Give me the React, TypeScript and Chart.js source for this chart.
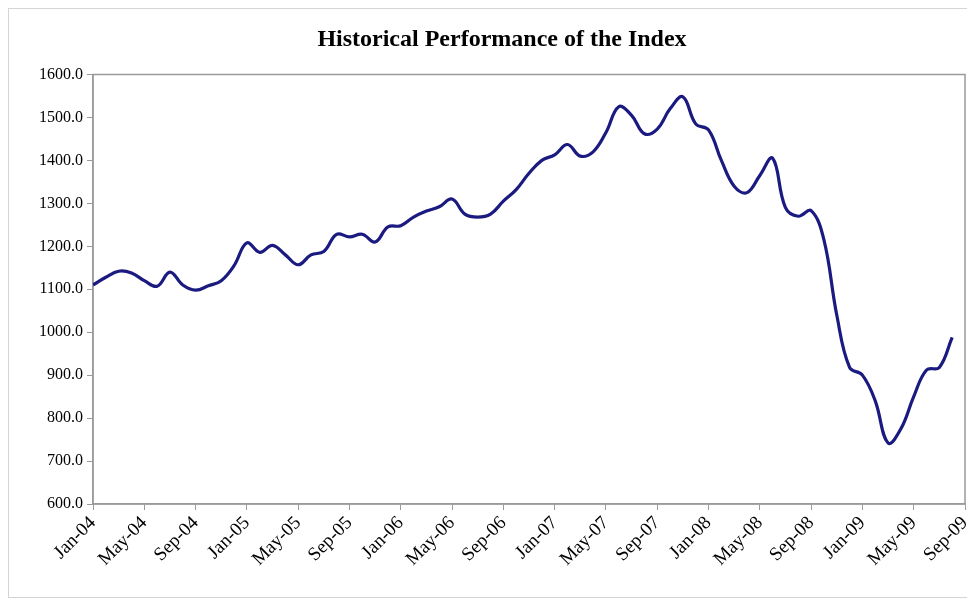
import React, { useEffect, useRef } from "react";
import { Chart, registerables } from "chart.js";

Chart.register(...registerables);

const TITLE = "Historical Performance of the Index";

// Tick labels every 4 months, Jan-04 .. Sep-09
const tickLabels = [
  "Jan-04", "May-04", "Sep-04", "Jan-05", "May-05", "Sep-05", "Jan-06", "May-06", "Sep-06",
  "Jan-07", "May-07", "Sep-07", "Jan-08", "May-08", "Sep-08", "Jan-09", "May-09", "Sep-09",
];

// Monthly index values, Jan-04 .. Aug-09
const values2004 = [1110, 1128, 1142, 1138, 1120, 1107, 1140, 1110, 1098, 1108, 1120, 1155];
const values2005 = [1208, 1186, 1202, 1180, 1157, 1180, 1188, 1228, 1222, 1228, 1210, 1245];
const values2006 = [1248, 1268, 1282, 1292, 1310, 1275, 1268, 1275, 1305, 1332, 1370, 1400];
const values2007 = [1413, 1437, 1410, 1420, 1465, 1525, 1505, 1462, 1473, 1520, 1548, 1485];
const values2008 = [1471, 1400, 1340, 1325, 1365, 1405, 1290, 1270, 1283, 1215, 1040, 918];
const values2009 = [900, 840, 742, 775, 850, 912, 918, 988];

const indexValues = [...values2004, ...values2005, ...values2006, ...values2007, ...values2008, ...values2009];

const FONT = "'Liberation Serif', 'Times New Roman', serif";

const plotBorder = {
  id: "plotBorder",
  beforeDatasetsDraw(chart: any) {
    const { ctx, chartArea } = chart;
    ctx.save();
    ctx.strokeStyle = "#9a9a9a";
    ctx.lineWidth = 1.5;
    ctx.strokeRect(chartArea.left, chartArea.top, chartArea.right - chartArea.left, chartArea.bottom - chartArea.top);
    ctx.restore();
  },
};

const titlePlugin = {
  id: "customTitle",
  afterDraw(chart: any) {
    const { ctx } = chart;
    ctx.save();
    ctx.fillStyle = "#000";
    ctx.font = `bold 24px ${FONT}`;
    ctx.textAlign = "center";
    ctx.textBaseline = "middle";
    ctx.fillText(TITLE, 493, 31);
    ctx.restore();
  },
};

export default function App() {
  const ref = useRef<HTMLCanvasElement | null>(null);
  useEffect(() => {
    if (!ref.current) return;
    const data = indexValues.map((v, i) => ({ x: i, y: v }));
    const chart = new Chart(ref.current, {
      type: "line",
      data: {
        datasets: [
          {
            label: "Index",
            data,
            borderColor: "#1a1a80",
            borderWidth: 3.2,
            pointRadius: 0,
            tension: 0.4,
            fill: false,
          },
        ],
      },
      plugins: [plotBorder, titlePlugin],
      options: {
        animation: false,
        responsive: false,
        maintainAspectRatio: false,
        layout: { padding: { left: 0, right: 6, top: 65.5, bottom: 0 } },
        plugins: {
          legend: { display: false },
          tooltip: { enabled: false },
          title: { display: false },
        },
        scales: {
          x: {
            type: "linear",
            min: 0,
            max: 68,
            afterFit: (s: any) => {
              s.height = 93;
              s.paddingRight = 0;
              s.paddingLeft = 0;
            },
            ticks: {
              stepSize: 4,
              autoSkip: false,
              minRotation: 45,
              maxRotation: 45,
              color: "#000",
              font: { family: FONT, size: 19 },
              padding: 2,
              callback: (v: any) => tickLabels[Math.round(Number(v) / 4)] ?? "",
            },
            grid: { display: true, drawOnChartArea: false, drawTicks: true, tickLength: 6, color: "#9a9a9a" },
            border: { display: true, color: "#9a9a9a", width: 1.5 },
          },
          y: {
            min: 600,
            max: 1600,
            afterFit: (s: any) => {
              s.width = 84;
            },
            ticks: {
              stepSize: 100,
              color: "#000",
              font: { family: FONT, size: 16 },
              padding: 4,
              callback: (v: any) => Number(v).toFixed(1),
            },
            grid: { display: true, drawOnChartArea: false, drawTicks: true, tickLength: 6, color: "#9a9a9a" },
            border: { display: true, color: "#9a9a9a", width: 1.5 },
          },
        },
      },
    } as any);
    return () => chart.destroy();
  }, []);
  return (
    <div style={{ width: 962, height: 588, border: "1px solid #d4d4d4", background: "#fff" }}>
      <canvas ref={ref} width={962} height={588} style={{ display: "block", width: 962, height: 588 }} />
    </div>
  );
}
